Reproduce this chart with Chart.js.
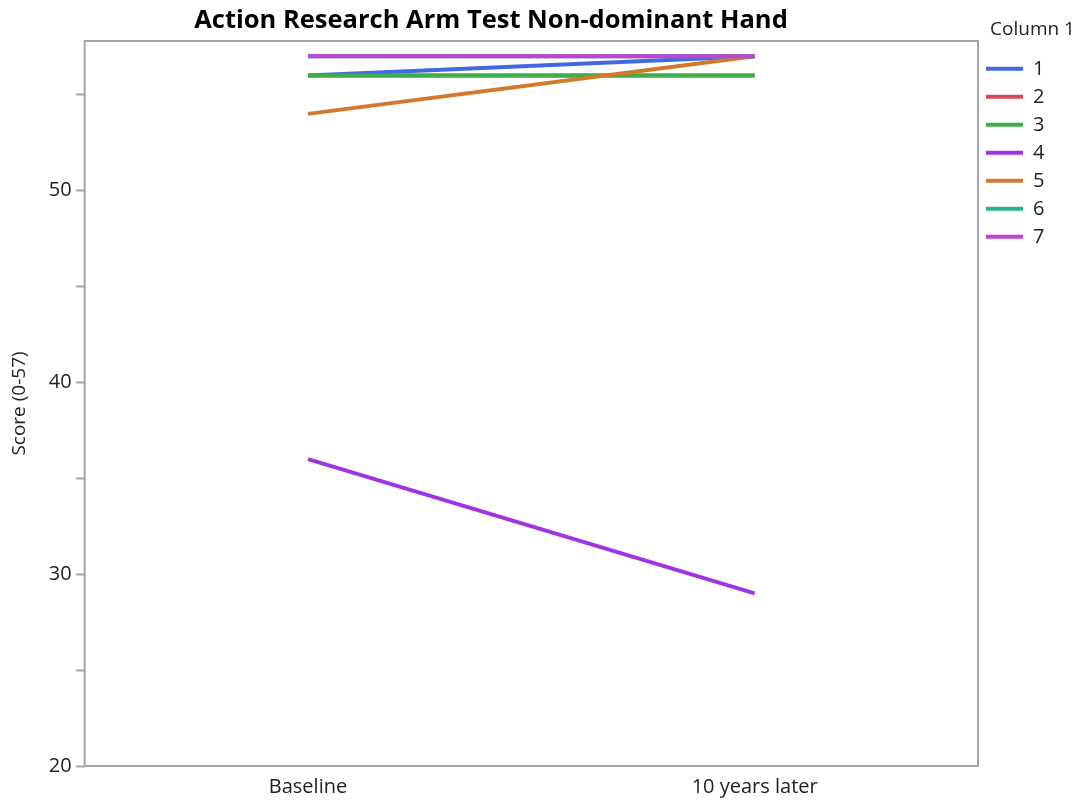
<!DOCTYPE html>
<html>
<head>
<meta charset="utf-8">
<script src="https://cdn.jsdelivr.net/npm/chart.js@4"></script>
<style>
	body { margin: 0; background: #fff; }
	#wrap { width: 1087px; height: 803px; position: relative; }
</style>
</head>
<body>
<div id="wrap"><canvas id="armChart"></canvas></div>
<script>
// timepoints and scores per subject (Column 1)
const timepoints = ["Baseline", "10 years later"];
const subjects = ["1", "2", "3", "4", "5", "6", "7"];
const score1 = [56, 57];
const score2 = [56, 56];
const score3 = [56, 56];
const score4 = [36, 29];
const score5 = [54, 57];
const score6 = [57, 57];
const score7 = [57, 57];
const yTicks = [20, 25, 30, 35, 40, 45, 50, 55];

const colors = ["#4169e1", "#d9475a", "#3fae49", "#a035e0", "#d27a2a", "#2ab390", "#c63fd6"];
const scores = [score1, score2, score3, score4, score5, score6, score7];

const fontFam = "'Open Sans', 'Noto Sans', sans-serif";

// frame around plot + main title text
const framePlugin = {
	id: "frame",
	afterDraw: (chart) => {
		const c = chart.ctx;
		const a = chart.chartArea;
		c.save();
		c.strokeStyle = "#a6a6a6";
		c.lineWidth = 2;
		c.strokeRect(a.left, a.top, a.right - a.left, a.bottom - a.top);
		c.fillStyle = "#000";
		c.font = "bold 25.5px " + fontFam;
		c.textAlign = "center";
		c.textBaseline = "middle";
		c.fillText("Action Research Arm Test Non-dominant Hand", 491, 21);
		c.restore();
	},
};

// make the legend column wide enough for its title
const legendWidth = {
	id: "legendWidth",
	beforeInit: (chart) => {
		const fitValue = chart.legend.fit;
		chart.legend.fit = function fit() {
			fitValue.bind(chart.legend)();
			this.width = 109;
		};
	},
};

const ctx = document.getElementById("armChart");
new Chart(ctx, {
	type: "line",
	data: {
		labels: timepoints,
		datasets: subjects.map((s, i) => ({
			label: s,
			data: scores[i],
			borderColor: colors[i],
			backgroundColor: colors[i],
			borderWidth: 4,
			pointRadius: 0,
			tension: 0,
			order: subjects.length - i,
		})),
	},
	options: {
		responsive: true,
		maintainAspectRatio: false,
		animation: false,
		layout: {
			padding: { top: 0, left: 8, right: 0, bottom: -5 },
		},
		scales: {
			x: {
				type: "category",
				offset: true,
				grid: { display: false, drawTicks: false },
				border: { display: false },
				ticks: {
					color: "#222",
					font: { size: 20, family: fontFam },
					padding: 9,
					maxRotation: 0,
				},
			},
			y: {
				min: 20,
				max: 57.8,
				afterBuildTicks: (scale) => {
					scale.ticks = yTicks.map((v) => ({ value: v }));
				},
				grid: {
					drawOnChartArea: false,
					tickLength: 9,
					color: "#a6a6a6",
					tickWidth: 2,
				},
				border: { display: false },
				ticks: {
					color: "#222",
					font: { size: 20, family: fontFam },
					padding: 4,
					callback: (v) => (v % 10 === 0 ? v : ""),
				},
				title: {
					display: true,
					text: "Score (0-57)",
					color: "#222",
					font: { size: 19, family: fontFam },
					padding: { top: 0, bottom: 14 },
				},
			},
		},
		plugins: {
			// reserves the band above the plot; text is drawn by framePlugin
			title: {
				display: true,
				fullSize: false,
				text: " ",
				font: { size: 20 },
				padding: { top: 8, bottom: 9 },
			},
			legend: {
				position: "right",
				align: "start",
				title: {
					display: true,
					position: "center",
					text: "Column 1",
					color: "#222",
					font: { size: 19, family: fontFam },
					padding: { top: 20, bottom: 8 },
				},
				labels: {
					usePointStyle: true,
					pointStyle: "line",
					pointStyleWidth: 37,
					boxHeight: 4,
					color: "#222",
					font: { size: 20, family: fontFam },
					padding: 8,
					sort: (a, b) => a.datasetIndex - b.datasetIndex,
				},
			},
			tooltip: { enabled: false },
		},
	},
	plugins: [framePlugin, legendWidth],
});
</script>
</body>
</html>
